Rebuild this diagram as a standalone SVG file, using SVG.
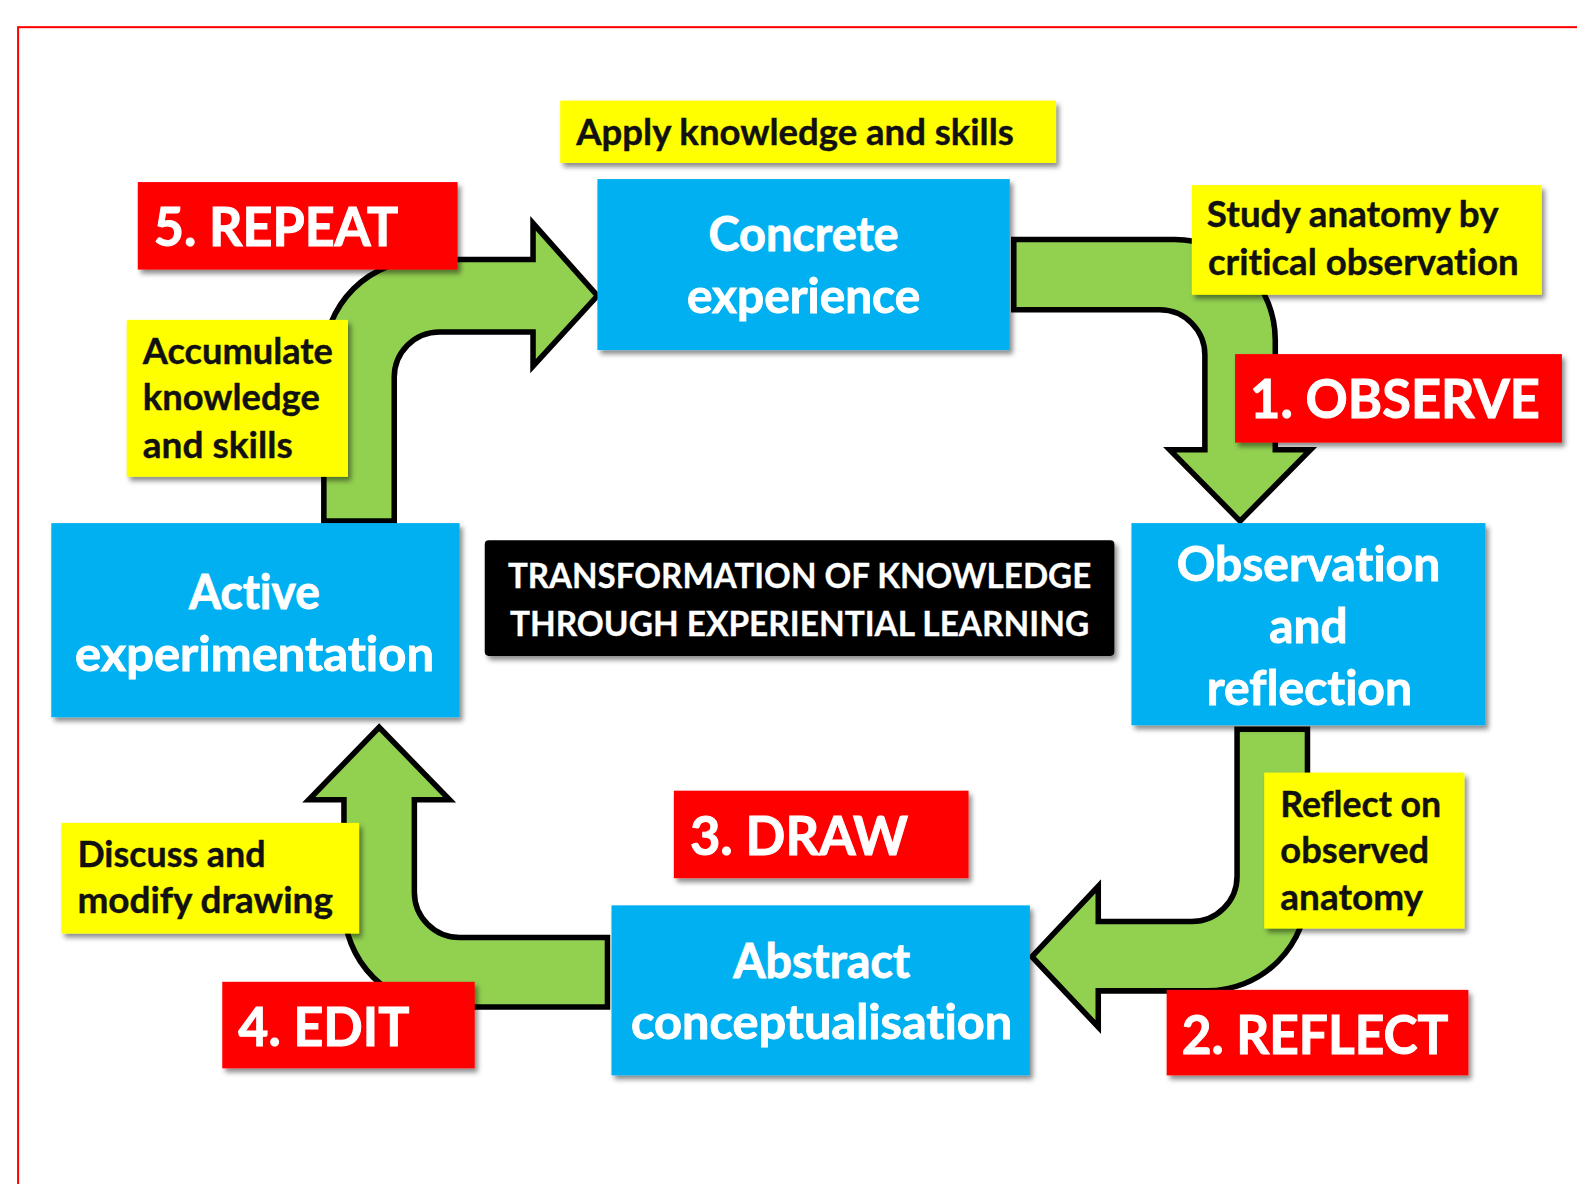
<svg xmlns="http://www.w3.org/2000/svg" width="1577" height="1184" viewBox="0 0 1577 1184">
<defs>
<filter id="sh" x="-10%" y="-10%" width="125%" height="135%">
<feDropShadow dx="3" dy="4" stdDeviation="2.5" flood-color="#000" flood-opacity="0.45"/>
</filter>
<style>
.t{font-family:Lato,"Open Sans","DejaVu Sans",sans-serif;font-weight:bold;font-variant-ligatures:none;font-feature-settings:"liga" 0,"clig" 0}
.y{fill:#FFFF00;filter:url(#sh)}
.b{fill:#00B0F0;filter:url(#sh)}
.r{fill:#FF0000;filter:url(#sh)}
.k{fill:#000;filter:url(#sh)}
.yt{font-size:36px;fill:#111;stroke:#111;stroke-width:0.4}
.bt{font-size:48px;fill:#fff;text-anchor:middle;stroke:#fff;stroke-width:0.9}
.rt{font-size:53px;fill:#fff;stroke:#fff;stroke-width:1}
.kt{font-size:35px;fill:#fff;stroke:#fff;stroke-width:0.3}
.arr{fill:#92D050;stroke:#000;stroke-width:5.5;stroke-linejoin:miter}
</style>
</defs>
<rect width="1577" height="1184" fill="#fff"/>
<g transform="scale(1.00574 1.00595)">
<rect id="frame" x="18" y="27" width="1600" height="1200" fill="none" stroke="#FF0000" stroke-width="2"/>

<g id="connectors">
<path class="arr" d="M 322 518 L 322 358 A 100 100 0 0 1 422 258 L 530 258 L 530 222 L 594 294 L 530 364 L 530 330 L 437 330 A 45 45 0 0 0 392 375 L 392 518 Z"/>
<path class="arr" d="M 1008 238 L 1168 238 A 100 100 0 0 1 1268 338 L 1268 447 L 1303 447 L 1233 518 L 1163 447 L 1198 447 L 1198 353 A 45 45 0 0 0 1153 308 L 1008 308 Z"/>
<path class="arr" d="M 1230 725 L 1300 725 L 1300 885 A 100 100 0 0 1 1200 985 L 1092 985 L 1092 1021 L 1026 951 L 1092 881 L 1092 916 L 1185 916 A 45 45 0 0 0 1230 871 Z"/>
<path class="arr" d="M 604 932 L 457 932 A 45 45 0 0 1 412 887 L 412 795 L 447 795 L 377 723 L 307 795 L 342 795 L 342 901 A 100 100 0 0 0 442 1001 L 604 1001 Z"/>
</g>

<g id="concrete">
<rect class="b" x="594" y="178" width="410" height="170"/>
<text class="t bt" x="799" y="250" textLength="189" lengthAdjust="spacingAndGlyphs">Concrete</text>
<text class="t bt" x="799" y="311" textLength="232" lengthAdjust="spacingAndGlyphs">experience</text>
</g>
<g id="observation">
<rect class="b" x="1125" y="520" width="352" height="201"/>
<text class="t bt" x="1301" y="578" textLength="262" lengthAdjust="spacingAndGlyphs">Observation</text>
<text class="t bt" x="1301" y="639" textLength="78" lengthAdjust="spacingAndGlyphs">and</text>
<text class="t bt" x="1302" y="701" textLength="204" lengthAdjust="spacingAndGlyphs">reflection</text>
</g>
<g id="abstract">
<rect class="b" x="608" y="900" width="416" height="169"/>
<text class="t bt" x="817" y="972" textLength="176" lengthAdjust="spacingAndGlyphs">Abstract</text>
<text class="t bt" x="817" y="1033" textLength="379" lengthAdjust="spacingAndGlyphs">conceptualisation</text>
</g>
<g id="active">
<rect class="b" x="51" y="520" width="406" height="193"/>
<text class="t bt" x="253" y="605" textLength="130" lengthAdjust="spacingAndGlyphs">Active</text>
<text class="t bt" x="253" y="667" textLength="357" lengthAdjust="spacingAndGlyphs">experimentation</text>
</g>

<g id="title">
<rect class="k" x="482" y="537" width="626" height="115" rx="4"/>
<text class="t kt" x="505" y="585" textLength="580" lengthAdjust="spacingAndGlyphs">TRANSFORMATION OF KNOWLEDGE</text>
<text class="t kt" x="507" y="632" textLength="576" lengthAdjust="spacingAndGlyphs">THROUGH EXPERIENTIAL LEARNING</text>
</g>

<g id="note-apply">
<rect class="y" x="557" y="100" width="493" height="62"/>
<text class="t yt" x="573" y="144" textLength="435" lengthAdjust="spacingAndGlyphs">Apply knowledge and skills</text>
</g>
<g id="note-study">
<rect class="y" x="1185" y="184" width="348" height="109"/>
<text class="t yt" x="1200" y="226" textLength="290" lengthAdjust="spacingAndGlyphs">Study anatomy by</text>
<text class="t yt" x="1201" y="273" textLength="309" lengthAdjust="spacingAndGlyphs">critical observation</text>
</g>
<g id="note-accumulate">
<rect class="y" x="126" y="318" width="220" height="156"/>
<text class="t yt" x="142" y="362" textLength="189" lengthAdjust="spacingAndGlyphs">Accumulate</text>
<text class="t yt" x="142" y="408" textLength="176" lengthAdjust="spacingAndGlyphs">knowledge</text>
<text class="t yt" x="142" y="455" textLength="149" lengthAdjust="spacingAndGlyphs">and skills</text>
</g>
<g id="note-discuss">
<rect class="y" x="61" y="818" width="296" height="110"/>
<text class="t yt" x="77" y="862" textLength="187" lengthAdjust="spacingAndGlyphs">Discuss and</text>
<text class="t yt" x="77" y="908" textLength="254" lengthAdjust="spacingAndGlyphs">modify drawing</text>
</g>
<g id="note-reflect">
<rect class="y" x="1257" y="768" width="199" height="155"/>
<text class="t yt" x="1273" y="812" textLength="160" lengthAdjust="spacingAndGlyphs">Reflect on</text>
<text class="t yt" x="1273" y="858" textLength="148" lengthAdjust="spacingAndGlyphs">observed</text>
<text class="t yt" x="1273" y="905" textLength="142" lengthAdjust="spacingAndGlyphs">anatomy</text>
</g>

<g id="step-repeat">
<rect class="r" x="137" y="181" width="318" height="87"/>
<text class="t rt" x="153" y="245" textLength="243" lengthAdjust="spacingAndGlyphs">5. REPEAT</text>
</g>
<g id="step-observe">
<rect class="r" x="1228" y="352" width="325" height="88"/>
<text class="t rt" x="1243" y="416" textLength="288" lengthAdjust="spacingAndGlyphs">1. OBSERVE</text>
</g>
<g id="step-draw">
<rect class="r" x="670" y="786" width="293" height="87"/>
<text class="t rt" x="686" y="850" textLength="217" lengthAdjust="spacingAndGlyphs">3. DRAW</text>
</g>
<g id="step-edit">
<rect class="r" x="221" y="976" width="251" height="86"/>
<text class="t rt" x="237" y="1040" textLength="170" lengthAdjust="spacingAndGlyphs">4. EDIT</text>
</g>
<g id="step-reflect">
<rect class="r" x="1160" y="984" width="300" height="85"/>
<text class="t rt" x="1175" y="1048" textLength="265" lengthAdjust="spacingAndGlyphs">2. REFLECT</text>
</g>
</g>
</svg>
